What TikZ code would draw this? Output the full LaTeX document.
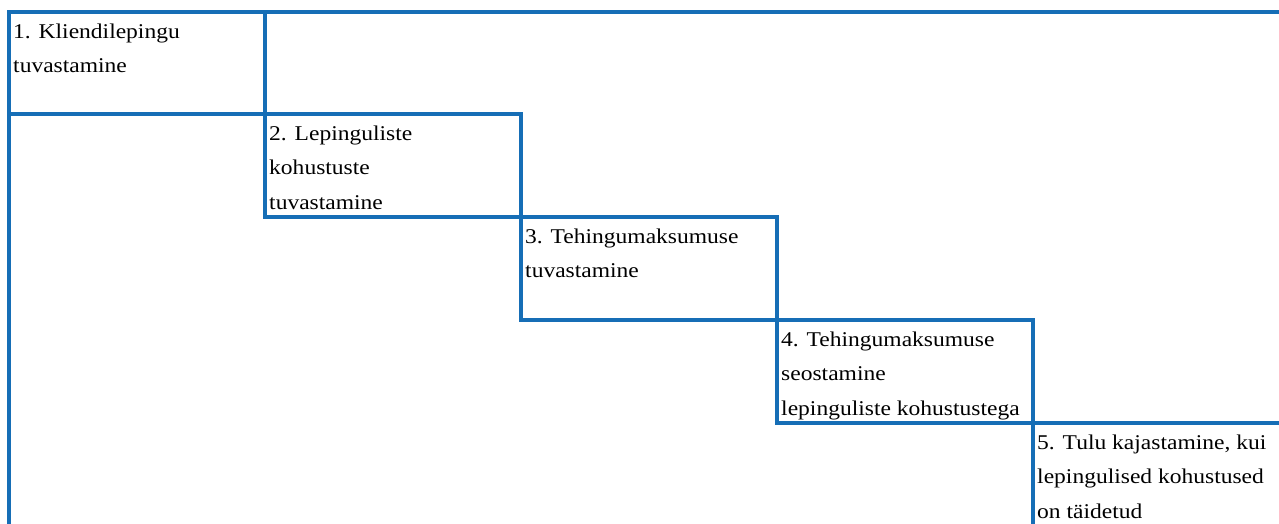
\documentclass[tikz,border=0pt]{standalone}
\usepackage{fontspec}
\setmainfont{Liberation Serif}
\definecolor{frameblue}{RGB}{22,110,182}
\tikzset{
  cell/.style={draw=frameblue, line width=4pt},
  celltext/.style={anchor=north west, inner sep=0pt, align=left, xscale=1.12, transform shape,
    font=\fontsize{21}{34.5}\selectfont, text=black}
}
\begin{document}
\begin{tikzpicture}[x=1pt,y=-1pt]
\useasboundingbox (0,0) rectangle (1279,523);
\clip (0,0) rectangle (1279,523);
% outer frame
\draw[cell] (9,12) rectangle (1300,560);
% staircase boxes
\draw[cell] (9,12) rectangle (265,114);
\draw[cell] (265,114) rectangle (521,217);
\draw[cell] (521,217) rectangle (777,320);
\draw[cell] (777,320) rectangle (1033,423);
\draw[cell] (1033,423) rectangle (1300,560);
% texts
\node[celltext] (t1) at (13,23.5) {1. Kliendilepingu\\tuvastamine};
\node[celltext] (t2) at (269,125.5) {2. Lepinguliste\\kohustuste\\tuvastamine};
\node[celltext] (t3) at (525,228.5) {3. Tehingumaksumuse\\tuvastamine};
\node[celltext] (t4) at (781,331.5) {4. Tehingumaksumuse\\seostamine\\lepinguliste kohustustega};
\node[celltext] (t5) at (1037,434.5) {5. Tulu kajastamine, kui\\lepingulised kohustused\\on täidetud};
\end{tikzpicture}
\end{document}
